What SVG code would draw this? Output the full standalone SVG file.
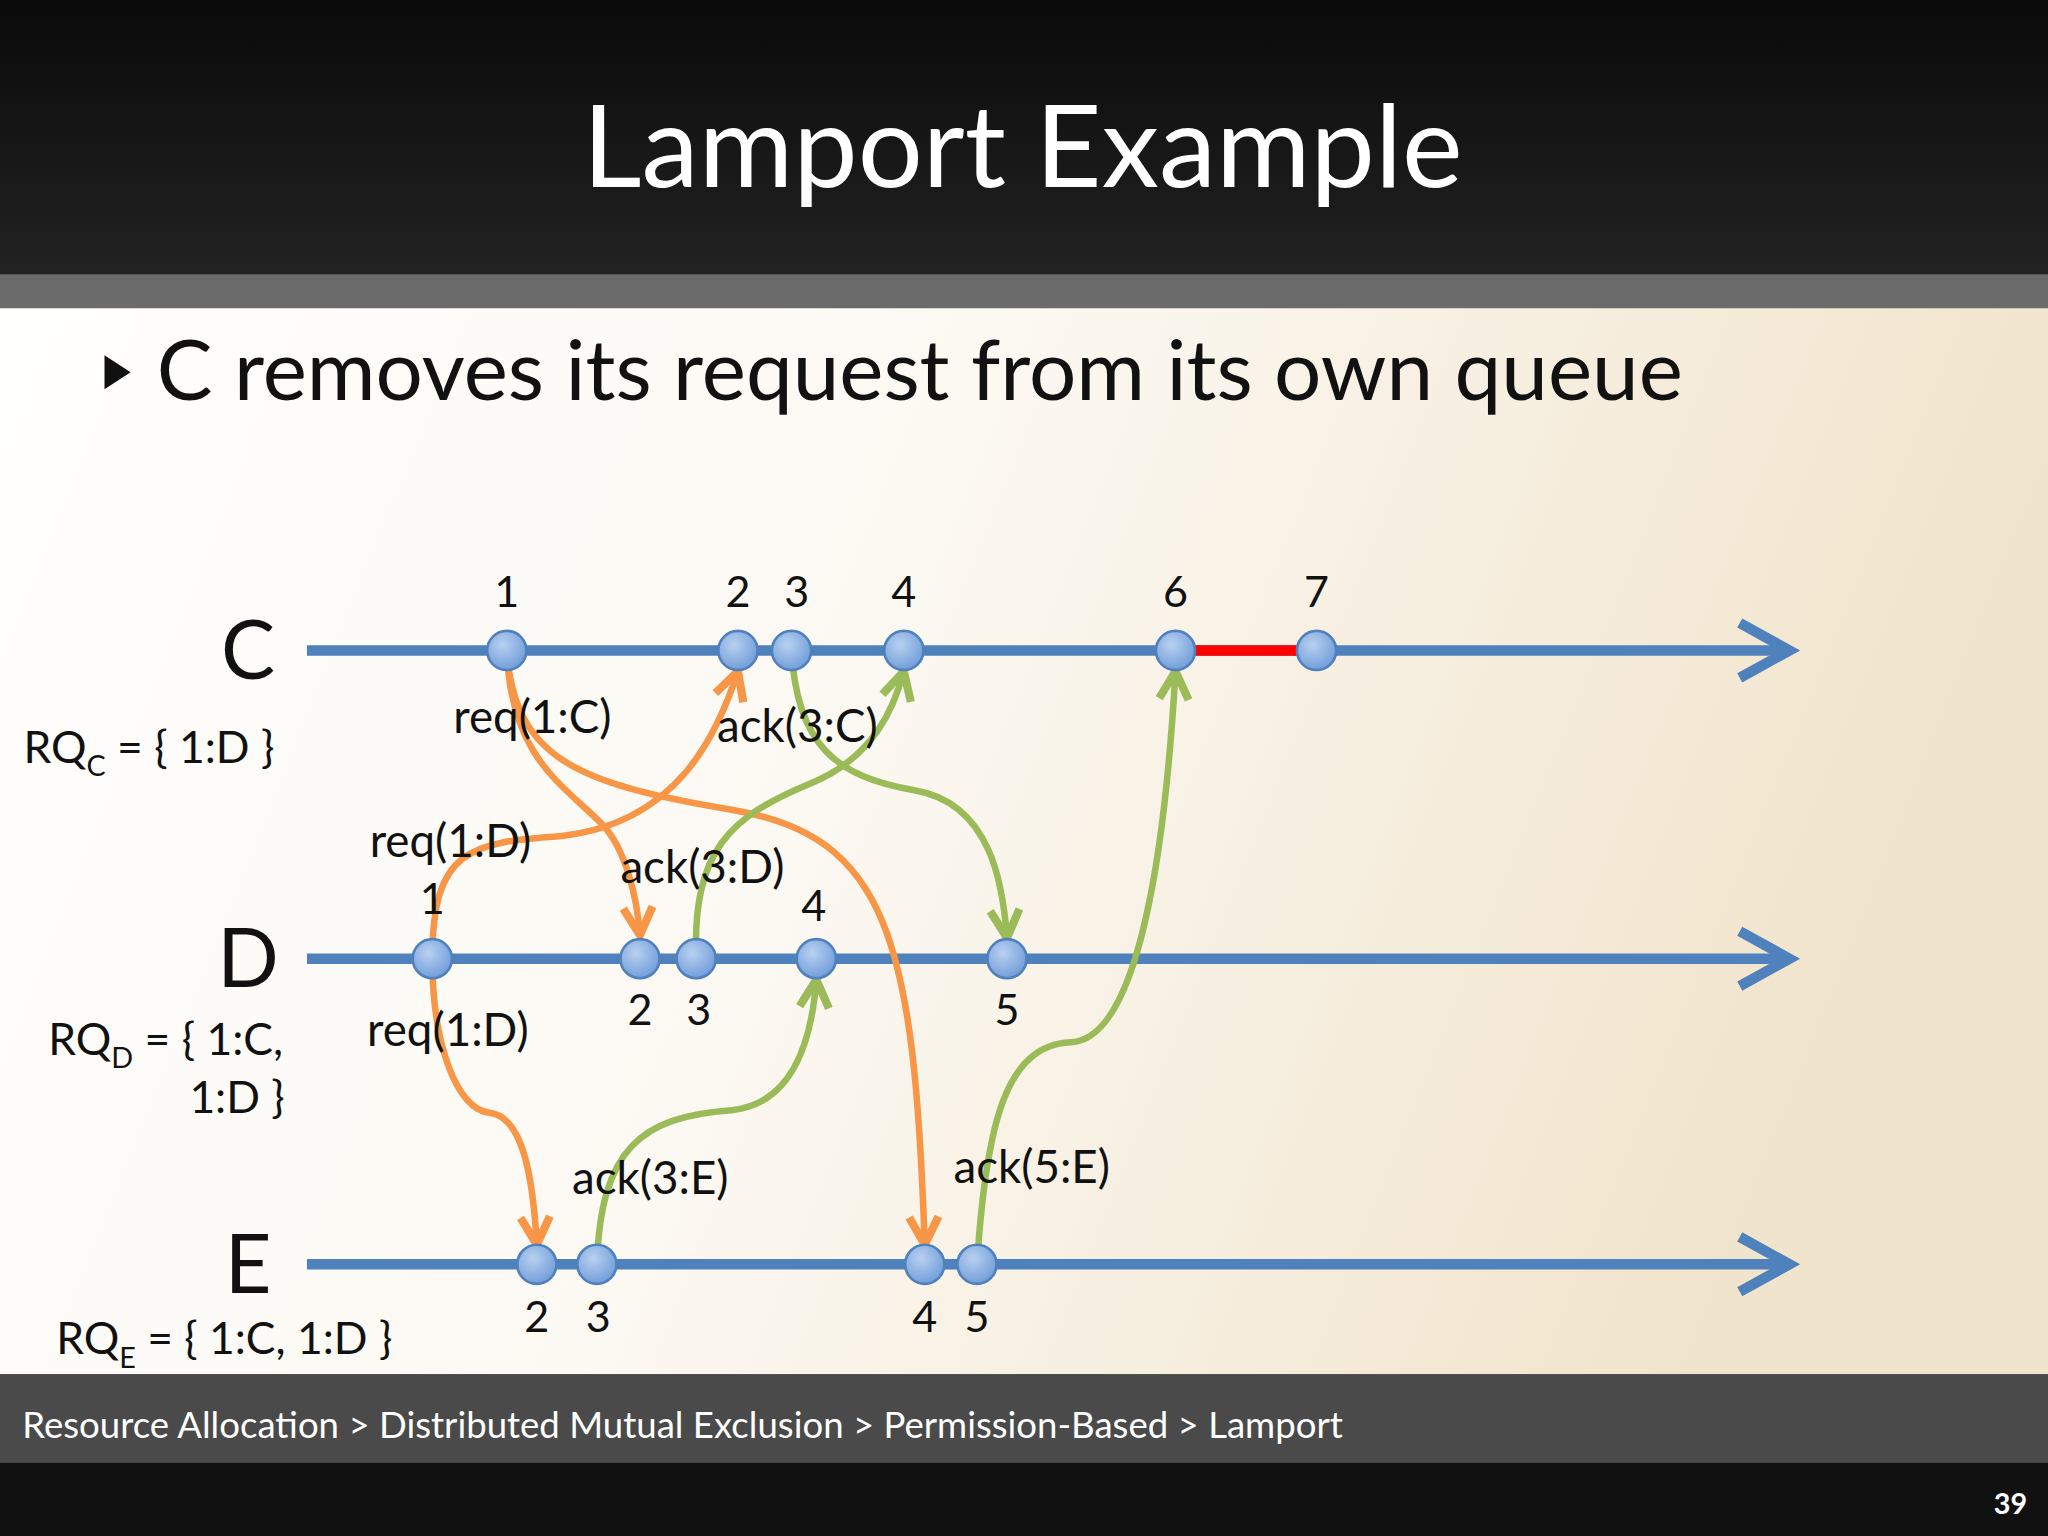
<svg xmlns="http://www.w3.org/2000/svg" width="2048" height="1536" viewBox="0 0 2048 1536">
<defs>
<linearGradient id="bg" x1="0" y1="0" x2="1" y2="0.3"><stop offset="0" stop-color="#ffffff"/><stop offset="0.5" stop-color="#fcf9f3"/><stop offset="1" stop-color="#f1e4cc"/></linearGradient>
<linearGradient id="top" x1="0" y1="0" x2="0" y2="1"><stop offset="0" stop-color="#0a0a0a"/><stop offset="1" stop-color="#222"/></linearGradient>
<radialGradient id="nd" cx="0.4" cy="0.35" r="0.7"><stop offset="0" stop-color="#b8d0f0"/><stop offset="1" stop-color="#6e9bd8"/></radialGradient>
<marker id="ab" markerUnits="userSpaceOnUse" markerWidth="60" markerHeight="60" refX="44" refY="25" orient="auto" viewBox="0 0 60 50"><polyline points="6,4 44,25 6,46" fill="none" stroke="#4f81bd" stroke-width="8" stroke-linejoin="miter"/></marker>
<marker id="ao" markerUnits="userSpaceOnUse" markerWidth="30" markerHeight="30" refX="20" refY="12" orient="auto" viewBox="0 0 24 24"><polyline points="3,3 20,12 3,21" fill="none" stroke="#f79646" stroke-width="5"/></marker>
<marker id="ag" markerUnits="userSpaceOnUse" markerWidth="30" markerHeight="30" refX="20" refY="12" orient="auto" viewBox="0 0 24 24"><polyline points="3,3 20,12 3,21" fill="none" stroke="#9bbb59" stroke-width="5"/></marker>
<style>
text{font-family:Lato,"Open Sans","Liberation Sans",sans-serif;fill:#111}
.tl{stroke:#4f81bd;stroke-width:8;fill:none}
.o{stroke:#f79646;stroke-width:5;fill:none;marker-end:url(#ao)}
.g{stroke:#9bbb59;stroke-width:5;fill:none;marker-end:url(#ag)}
.n{fill:url(#nd);stroke:#4f81bd;stroke-width:2}
.num{font-size:33px;text-anchor:middle}
.lb{font-size:35px}
.pl{font-size:62px;text-anchor:middle}
.rq{font-size:34px}
</style>
</defs>
<g transform="scale(1.30612)">
<rect width="1568" height="1176" fill="url(#bg)"/>
<rect width="1568" height="212" fill="url(#top)"/>
<rect y="210" width="1568" height="26" fill="#6b6b6b"/>
<text x="783" y="143" font-size="88" text-anchor="middle" style="fill:#fff">Lamport Example</text>
<polygon points="80,272 100,285 80,298" fill="#111"/>
<text x="120" y="306" font-size="64">C removes its request from its own queue</text>
<rect y="1052" width="1568" height="74" fill="#4a4a4a"/>
<rect y="1120" width="1568" height="56" fill="#111"/>
<text x="17" y="1101" font-size="28" style="fill:#fff">Resource Allocation &gt; Distributed Mutual Exclusion &gt; Permission-Based &gt; Lamport</text>
<text x="1552" y="1159" font-size="22" font-weight="bold" text-anchor="end" style="fill:#fff">39</text>

<g id="timelines">
<line class="tl" x1="235" y1="498" x2="1370" y2="498" marker-end="url(#ab)"/>
<line class="tl" x1="235" y1="734" x2="1370" y2="734" marker-end="url(#ab)"/>
<line class="tl" x1="235" y1="968" x2="1370" y2="968" marker-end="url(#ab)"/>
<line x1="900" y1="498" x2="1008" y2="498" stroke="#ff0000" stroke-width="8"/>
</g>
<g id="process-labels">
<text class="pl" x="190" y="520">C</text>
<text class="pl" x="190" y="756">D</text>
<text class="pl" x="190" y="990">E</text>
<text class="rq" x="18" y="584">RQ<tspan font-size="22" dy="10">C</tspan><tspan dy="-10"> = { 1:D }</tspan></text>
<text class="rq" x="37" y="808">RQ<tspan font-size="22" dy="10">D</tspan><tspan dy="-10"> = { 1:C,</tspan></text>
<text class="rq" x="218" y="852" text-anchor="end">1:D }</text>
<text class="rq" x="43" y="1037">RQ<tspan font-size="22" dy="10">E</tspan><tspan dy="-10"> = { 1:C, 1:D }</tspan></text>
</g>
<g id="connectors">
<path class="o" d="M388,500 C392,580 430,600 460,630 C480,650 488,690 490,716"/>
<path class="o" d="M388,500 C395,580 440,600 560,620 C680,640 700,720 708,953"/>
<path class="o" d="M331,734 C331,650 360,645 430,640 C520,630 550,560 565,514"/>
<path class="o" d="M331,734 C331,800 350,850 375,852 C400,855 408,900 411,953"/>
<path class="g" d="M606,498 C610,570 640,595 700,605 C760,615 768,680 771,718"/>
<path class="g" d="M533,734 C530,650 560,625 620,600 C670,580 685,540 692,514"/>
<path class="g" d="M457,968 C460,880 490,855 560,850 C610,845 622,790 625,750"/>
<path class="g" d="M748,968 C755,860 770,800 820,798 C880,795 895,600 900,514"/>
</g>
<g id="msg-labels">
<text class="lb" x="347" y="561">req(1:C)</text>
<text class="lb" x="549" y="568">ack(3:C)</text>
<text class="lb" x="283" y="656">req(1:D)</text>
<text class="lb" x="475" y="676">ack(3:D)</text>
<text class="lb" x="281" y="801">req(1:D)</text>
<text class="lb" x="438" y="914">ack(3:E)</text>
<text class="lb" x="730" y="906">ack(5:E)</text>
</g>
<g id="nodes-C">
<circle class="n" cx="388" cy="498" r="15"/><circle class="n" cx="565" cy="498" r="15"/><circle class="n" cx="606" cy="498" r="15"/><circle class="n" cx="692" cy="498" r="15"/><circle class="n" cx="900" cy="498" r="15"/><circle class="n" cx="1008" cy="498" r="15"/>
<text class="num" x="388" y="465">1</text><text class="num" x="565" y="465">2</text><text class="num" x="610" y="465">3</text><text class="num" x="692" y="465">4</text><text class="num" x="900" y="465">6</text><text class="num" x="1008" y="465">7</text>
</g>
<g id="nodes-D">
<circle class="n" cx="331" cy="734" r="15"/><circle class="n" cx="490" cy="734" r="15"/><circle class="n" cx="533" cy="734" r="15"/><circle class="n" cx="625" cy="734" r="15"/><circle class="n" cx="771" cy="734" r="15"/>
<text class="num" x="331" y="700">1</text><text class="num" x="623" y="705">4</text><text class="num" x="490" y="785">2</text><text class="num" x="535" y="785">3</text><text class="num" x="771" y="785">5</text>
</g>
<g id="nodes-E">
<circle class="n" cx="411" cy="968" r="15"/><circle class="n" cx="457" cy="968" r="15"/><circle class="n" cx="708" cy="968" r="15"/><circle class="n" cx="748" cy="968" r="15"/>
<text class="num" x="411" y="1020">2</text><text class="num" x="458" y="1020">3</text><text class="num" x="708" y="1020">4</text><text class="num" x="748" y="1020">5</text>
</g>
</g>
</svg>
